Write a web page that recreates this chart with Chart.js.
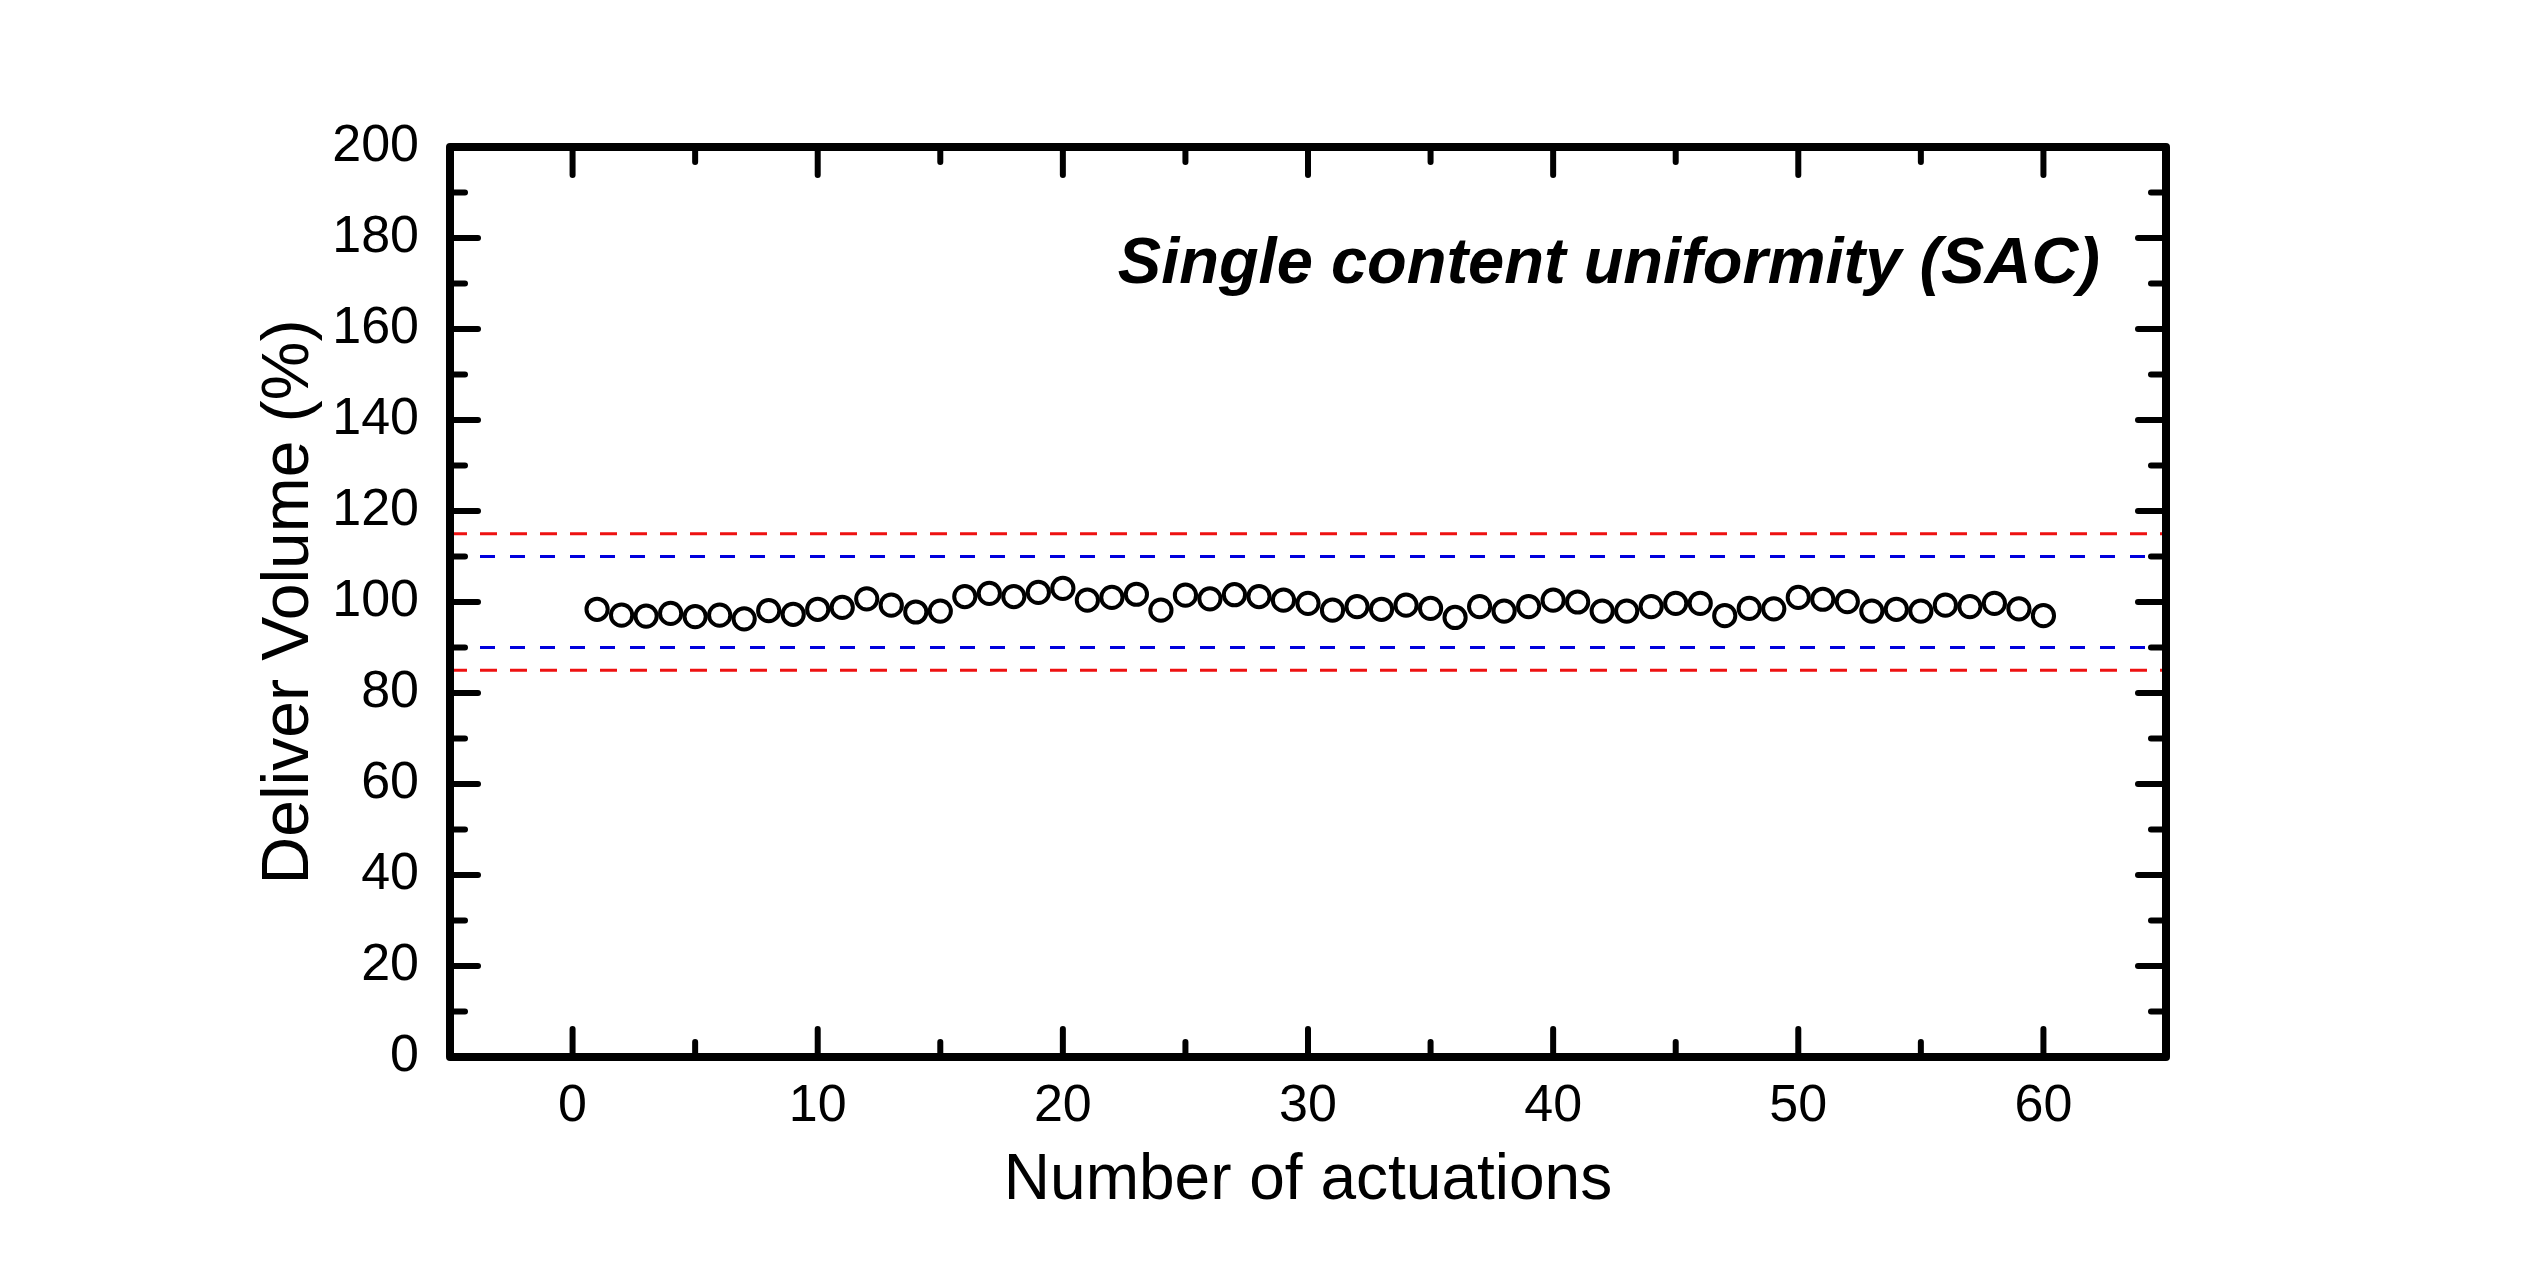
<!DOCTYPE html>
<html>
<head>
<meta charset="utf-8">
<script src="https://cdn.jsdelivr.net/npm/chart.js@4/dist/chart.umd.min.js"></script>
<style>
  html, body { margin: 0; padding: 0; background: #fff; }
  #wrap { width: 2522px; height: 1274px; position: relative; }
</style>
</head>
<body>
<div id="wrap"><canvas id="c"></canvas></div>
<script>
// ---- data ----
const actuations = [1,2,3,4,5,6,7,8,9,10,11,12,13,14,15,16,17,18,19,20,
  21,22,23,24,25,26,27,28,29,30,31,32,33,34,35,36,37,38,39,40,
  41,42,43,44,45,46,47,48,49,50,51,52,53,54,55,56,57,58,59,60];
const deliverVolume = [98.4,97.1,96.9,97.5,96.8,97.1,96.3,98.1,97.3,98.4,
  98.8,100.7,99.3,97.8,98.0,101.2,101.9,101.2,102.1,103.0,
  100.4,101.0,101.7,98.2,101.5,100.7,101.6,101.2,100.4,99.7,
  98.2,99.0,98.4,99.3,98.6,96.6,99.0,98.0,99.0,100.4,
  100.0,98.0,98.0,99.0,99.7,99.7,97.0,98.6,98.5,101.0,
  100.6,100.1,98.0,98.4,98.0,99.3,99.0,99.7,98.5,97.0];
const xRange = [-5, 65];
const yRange = [0, 200];
const redLimits = [115, 85];
const blueLimits = [110, 90];
const xTickValues = [0,10,20,30,40,50,60];
const xMinorValues = [5,15,25,35,45,55];
const yTickValues = [0,20,40,60,80,100,120,140,160,180,200];
const yMinorValues = [10,30,50,70,90,110,130,150,170,190];
const xTitle = 'Number of actuations';
const yTitle = 'Deliver Volume (%)';
const annotationText = 'Single content uniformity (SAC)';

// ---- chart ----
const FONT = "'Liberation Sans', Arial, Helvetica, sans-serif";
Chart.defaults.font.family = FONT;
Chart.defaults.color = '#000';

const points = actuations.map((a, i) => ({ x: a, y: deliverVolume[i] }));
function limitLine(v) { return [{ x: xRange[0], y: v }, { x: xRange[1], y: v }]; }

const datasets = [
  { data: points, showLine: false, pointRadius: 10.6, pointHoverRadius: 10.6,
    pointBorderWidth: 4, pointBorderColor: '#000', pointBackgroundColor: 'rgba(255,255,255,0)', order: 0 },
];
redLimits.forEach(v => datasets.push({ data: limitLine(v), showLine: true, pointRadius: 0,
  borderColor: '#EE1111', borderWidth: 3, borderDash: [17, 13], order: 1 }));
blueLimits.forEach(v => datasets.push({ data: limitLine(v), showLine: true, pointRadius: 0,
  borderColor: '#0000DD', borderWidth: 3, borderDash: [15, 15], order: 1 }));

const framePlugin = {
  id: 'frame',
  afterDatasetsDraw(chart) {
    const { ctx, chartArea: { left, right, top, bottom }, scales: { x, y } } = chart;
    ctx.save();
    ctx.strokeStyle = '#000';
    ctx.lineCap = 'round';
    ctx.lineWidth = 6;
    const seg = (x1, y1, x2, y2) => { ctx.beginPath(); ctx.moveTo(x1, y1); ctx.lineTo(x2, y2); ctx.stroke(); };
    const MAJ = 28, MIN = 15;
    yTickValues.forEach(v => { const p = y.getPixelForValue(v); seg(left, p, left + MAJ, p); seg(right, p, right - MAJ, p); });
    yMinorValues.forEach(v => { const p = y.getPixelForValue(v); seg(left, p, left + MIN, p); seg(right, p, right - MIN, p); });
    xTickValues.forEach(v => { const p = x.getPixelForValue(v); seg(p, bottom, p, bottom - MAJ); seg(p, top, p, top + MAJ); });
    xMinorValues.forEach(v => { const p = x.getPixelForValue(v); seg(p, bottom, p, bottom - MIN); seg(p, top, p, top + MIN); });
    ctx.lineWidth = 8;
    ctx.lineJoin = 'round';
    ctx.strokeRect(left, top, right - left, bottom - top);
    // annotation
    ctx.fillStyle = '#000';
    ctx.font = 'italic bold 65px ' + FONT;
    ctx.textAlign = 'right';
    ctx.textBaseline = 'alphabetic';
    ctx.fillText(annotationText, right - 66, top + 136);
    ctx.restore();
  }
};

new Chart(document.getElementById('c'), {
  type: 'scatter',
  data: { datasets },
  options: {
    responsive: true,
    maintainAspectRatio: false,
    devicePixelRatio: 1,
    animation: false,
    layout: { padding: { top: 147, right: 356, left: 0, bottom: 0 } },
    plugins: { legend: { display: false }, tooltip: { enabled: false } },
    scales: {
      x: {
        type: 'linear', min: xRange[0], max: xRange[1],
        grid: { display: false, drawTicks: false },
        border: { display: false },
        afterBuildTicks: s => { s.ticks = xTickValues.map(v => ({ value: v })); },
        afterFit: s => { s.height = 217; },
        ticks: { font: { size: 52 }, padding: 18, color: '#000', maxRotation: 0 },
        title: { display: true, text: xTitle, font: { size: 64 }, color: '#000', padding: { top: 0, bottom: 54 } }
      },
      y: {
        type: 'linear', min: yRange[0], max: yRange[1],
        grid: { display: false, drawTicks: false },
        border: { display: false },
        afterBuildTicks: s => { s.ticks = yTickValues.map(v => ({ value: v })); },
        afterFit: s => { s.width = 450; },
        ticks: { font: { size: 52 }, padding: 31, color: '#000' },
        title: { display: true, text: yTitle, font: { size: 66 }, color: '#000', padding: { top: 250, bottom: 0 } }
      }
    }
  },
  plugins: [framePlugin]
});
</script>
</body>
</html>
